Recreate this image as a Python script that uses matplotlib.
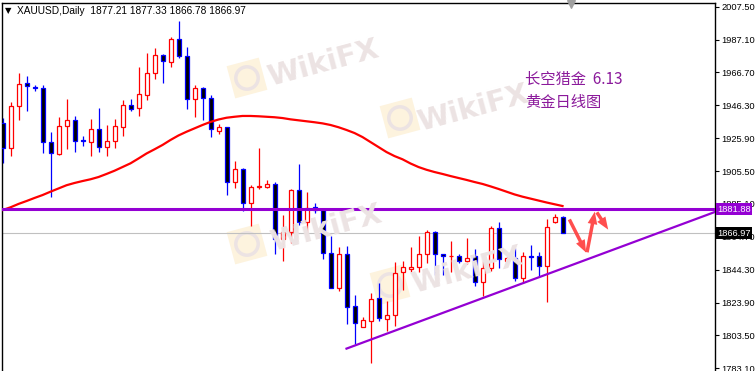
import matplotlib
matplotlib.use("Agg")
import matplotlib.pyplot as plt
from matplotlib.patches import Rectangle

plt.rcParams['font.family'] = ['Liberation Sans', 'DejaVu Sans']

opens = [1935.1, 1919.6, 1946.1, 1960.2, 1957.4, 1956.9, 1923.7, 1916.1, 1933.6, 1937.2,
         1924.8, 1923.7, 1931.6, 1920.6, 1924.0, 1933.0, 1946.3, 1944.4, 1952.7, 1966.2,
         1977.3, 1973.0, 1987.3, 1976.7, 1950.0, 1957.2, 1950.7, 1930.6, 1932.7, 1898.9,
         1906.6, 1885.5, 1895.6, 1895.8, 1897.3, 1863.2, 1867.9, 1893.8, 1874.1, 1883.0,
         1881.4, 1854.5, 1833.2, 1853.9, 1821.8, 1808.9, 1812.7, 1826.6, 1813.9, 1816.0,
         1842.7, 1845.0, 1845.8, 1853.9, 1867.5, 1853.9, 1852.6, 1852.6, 1849.5, 1852.6,
         1836.5, 1845.6, 1870.0, 1849.9, 1851.4, 1839.0, 1853.0, 1852.8, 1846.8, 1874.1,
         1877.21]
highs = [1938.2, 1948.5, 1966.5, 1964.5, 1959.1, 1958.9, 1929.9, 1938.9, 1950.2, 1939.7,
         1927.3, 1937.6, 1944.6, 1934.1, 1937.8, 1949.6, 1950.2, 1969.9, 1979.0, 1982.1,
         1978.0, 1988.5, 1998.6, 1982.5, 1958.9, 1957.5, 1952.7, 1934.5, 1932.9, 1911.8,
         1907.2, 1896.9, 1919.6, 1900.0, 1898.8, 1878.3, 1894.4, 1909.9, 1892.7, 1885.9,
         1881.6, 1865.2, 1858.6, 1859.0, 1828.6, 1814.8, 1829.7, 1836.3, 1824.9, 1848.9,
         1849.5, 1858.2, 1865.4, 1869.0, 1868.3, 1854.1, 1862.1, 1853.9, 1863.8, 1857.0,
         1849.7, 1871.4, 1873.7, 1852.4, 1858.0, 1855.1, 1859.7, 1855.5, 1875.6, 1878.9,
         1877.33]
lows = [1910.3, 1915.0, 1937.2, 1943.0, 1955.0, 1916.9, 1889.6, 1915.5, 1919.0, 1917.5,
        1921.1, 1915.0, 1917.5, 1915.0, 1920.0, 1927.5, 1943.0, 1939.9, 1949.6, 1962.8,
        1960.3, 1970.3, 1975.9, 1943.8, 1939.2, 1937.2, 1926.5, 1928.3, 1890.7, 1895.2,
        1880.9, 1871.4, 1894.2, 1894.8, 1854.1, 1849.9, 1861.1, 1872.1, 1865.9, 1879.7,
        1851.0, 1832.8, 1831.3, 1810.6, 1798.2, 1808.7, 1786.2, 1812.7, 1806.5, 1809.4,
        1831.7, 1843.1, 1843.1, 1848.7, 1841.0, 1841.0, 1843.1, 1848.3, 1847.9, 1834.4,
        1828.0, 1843.7, 1845.2, 1848.7, 1837.5, 1836.3, 1844.1, 1840.6, 1824.5, 1873.1,
        1866.78]
closes = [1919.6, 1946.1, 1959.3, 1958.1, 1957.0, 1923.7, 1916.5, 1933.6, 1937.2, 1924.4,
          1924.4, 1931.4, 1920.6, 1924.0, 1933.3, 1946.3, 1944.2, 1953.1, 1966.4, 1977.5,
          1973.8, 1987.3, 1977.1, 1950.0, 1957.2, 1950.7, 1931.4, 1932.7, 1898.9, 1906.6,
          1885.5, 1895.4, 1896.1, 1897.3, 1863.2, 1867.9, 1893.8, 1874.1, 1882.4, 1881.4,
          1854.5, 1833.2, 1854.1, 1821.0, 1811.1, 1813.1, 1826.0, 1814.2, 1816.0, 1842.1,
          1845.8, 1845.8, 1853.9, 1867.5, 1853.9, 1852.6, 1852.9, 1849.5, 1851.8, 1836.5,
          1845.6, 1870.0, 1850.8, 1851.4, 1839.0, 1853.0, 1852.4, 1846.8, 1871.0, 1876.8,
          1866.97]
ma = [1881.3, 1883.0, 1885.1, 1886.9, 1888.8, 1890.6, 1892.7, 1894.7, 1896.7, 1898.1,
      1899.3, 1900.4, 1901.8, 1903.7, 1905.7, 1908.0, 1910.3, 1913.3, 1916.4, 1919.0,
      1921.7, 1924.8, 1927.6, 1929.9, 1932.0, 1934.1, 1936.0, 1937.5, 1938.6, 1939.2,
      1939.7, 1939.7, 1939.5, 1939.2, 1938.9, 1938.4, 1937.6, 1937.0, 1936.4, 1935.8,
      1935.1, 1934.1, 1932.7, 1931.0, 1929.1, 1926.6, 1923.5, 1920.4, 1917.3, 1914.8,
      1912.8, 1910.2, 1908.0, 1906.3, 1904.9, 1903.7, 1902.4, 1901.2, 1900.0, 1898.7,
      1897.5, 1896.0, 1894.4, 1892.7, 1891.0, 1889.6, 1888.4, 1887.2, 1886.0, 1884.9,
      1883.8]

yticks = [2007.50, 1987.10, 1966.70, 1946.30, 1925.90, 1905.50,
          1885.10, 1864.70, 1844.30, 1823.90, 1803.50, 1783.10]
hline = 1881.88
last_price = 1866.97
trend_x = [43.0, 89.1]
trend_y = [1795.3, 1880.2]
arrows = [((70.7, 1877.0), (73.1, 1853.4)),
          ((73.0, 1853.4), (74.1, 1882.0)),
          ((74.1, 1881.3), (75.9, 1867.7))]
title = "XAUUSD,Daily  1877.21 1877.33 1866.78 1866.97"
note = "长空猎金  6.13\n黄金日线图"

fig = plt.figure(figsize=(7.55, 3.71), dpi=100)
ax = fig.add_axes([1.7 / 755, 0, (715 - 1.7) / 755, (371 - 2.7) / 371])
ax.set_xlim(-0.1, 89.06)
ax.set_ylim(1781.4, 2010.0)

# watermarks
wm_text = [(323, 63), (473, 108), (326, 228), (467, 270)]
wm_logo = [(247, 78), (400, 118), (247, 244), (390, 285)]
for x, y in wm_logo:
    ax.scatter([x / 755], [1 - y / 371], transform=fig.transFigure, marker=(4, 0, 60),
               s=1150, color='#fdf3de', edgecolor='none', zorder=0)
    ax.scatter([x / 755], [1 - y / 371], transform=fig.transFigure, marker='o',
               s=260, color='none', edgecolor='#ece3e3', linewidth=2.5, zorder=0)
for x, y in wm_text:
    fig.text(x / 755, 1 - y / 371, "WikiFX", fontsize=21, fontweight='bold',
             color='#ece3e3', rotation=15, ha='center', va='center', zorder=0,
             family='DejaVu Sans')

ax.axhline(last_price, color='#c0c0c0', lw=0.8, zorder=1)
ax.axhline(hline, color='#9400d3', lw=2.2, zorder=5)
ax.plot(trend_x, trend_y, color='#9400d3', lw=1.6, zorder=5)
ax.plot(range(len(ma)), ma, color='#ff0000', lw=1.6, zorder=4)

for i in range(len(opens)):
    o, h, l, c = opens[i], highs[i], lows[i], closes[i]
    up = c >= o
    col = '#ff0000' if up else '#0000ff'
    ax.vlines(i, l, h, color=col, lw=0.9, zorder=2)
    ax.add_patch(Rectangle((i - 0.25, min(o, c)), 0.5, abs(c - o),
                           facecolor='white' if up else 'black',
                           edgecolor=col, lw=0.9, zorder=3))

for start, end in arrows:
    ax.annotate('', xy=end, xytext=start,
                arrowprops=dict(arrowstyle='simple,head_width=0.7,head_length=0.9,tail_width=0.25',
                                color='#ff3b3b', lw=0, alpha=0.9), zorder=6)

ax.yaxis.tick_right()
ax.set_yticks(yticks)
ax.set_yticklabels(["%.2f" % t for t in yticks], fontsize=6.7)
ax.tick_params(axis='y', length=3, width=0.8, pad=1.5, colors='black')
ax.set_xticks([])
ax.spines['bottom'].set_visible(False)
for s in ['left', 'right', 'top']:
    ax.spines[s].set_linewidth(1.0)

tr = ax.get_yaxis_transform()
ax.text(1.003, hline, "%.2f" % hline, transform=tr, fontsize=6.7, color='white',
        va='center', ha='left', zorder=10,
        bbox=dict(boxstyle='square,pad=0.15', fc='#9400d3', ec='none'))
ax.text(1.003, last_price, "%.2f" % last_price, transform=tr, fontsize=6.7, color='white',
        va='center', ha='left', zorder=10,
        bbox=dict(boxstyle='square,pad=0.15', fc='black', ec='none'))

fig.text(5 / 755, 1 - 11 / 371, "▼", fontsize=6, color='black', va='center', ha='left',
         family='DejaVu Sans')
fig.text(17 / 755, 1 - 11 / 371, title, fontsize=7.3, color='black', va='center', ha='left')
ax.scatter([571 / 755], [1 - 4 / 371], transform=fig.transFigure, marker='v', s=30,
           color='#a0a0a0', zorder=10, clip_on=False)

ax.text(525 / 755, 1 - 91 / 371, note, transform=fig.transFigure, fontsize=11,
        color='#8b1a9b', va='center', ha='left', linespacing=1.45,
        family=['Noto Sans CJK SC', 'DejaVu Sans'])

fig.savefig("out.png", dpi=100)
